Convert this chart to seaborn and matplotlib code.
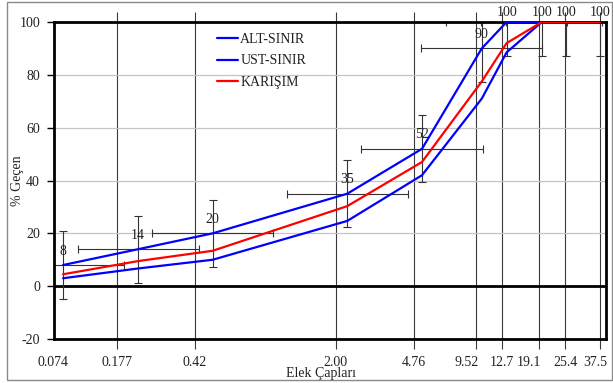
import numpy as np
import pandas as pd
import matplotlib
matplotlib.use("Agg")
import matplotlib.pyplot as plt
import matplotlib.transforms as mtrans
from matplotlib.patches import Rectangle
from matplotlib.ticker import NullLocator, FixedLocator, FixedFormatter
import seaborn as sns

# ---- data ----
sieve = [0.074, 0.177, 0.42, 2.00, 4.76, 9.52, 12.7, 19.1, 25.4, 37.5]
alt_sinir = [3, 6.7, 10, 24.7, 42, 71, 88.5, 100, 100, 100]
ust_sinir = [8, 14, 20, 35, 52, 90, 100, 100, 100, 100]
karisim = [4.5, 9.5, 13.4, 30.3, 47, 77.5, 92, 100, 100, 100]
series_names = ["ALT-SINIR", "UST-SINIR", "KARIŞIM"]
tick_labels = ["0.177", "0.42", "2.00", "4.76", "9.52", "12.7", "19.1", "25.4", "37.5"]
tick_values = [0.177, 0.42, 2.00, 4.76, 9.52, 12.7, 19.1, 25.4, 37.5]
first_label = "0.074"
y_err = 12.7
x_err_factor = 2.02

df = pd.DataFrame({
    "Elek": sieve * 3,
    "Geçen": alt_sinir + ust_sinir + karisim,
    "Seri": [series_names[0]] * len(sieve) + [series_names[1]] * len(sieve) + [series_names[2]] * len(sieve),
})

sns.set_theme(style="white")
plt.rcParams["font.family"] = ["Liberation Serif", "DejaVu Serif"]
plt.rcParams["font.size"] = 10
plt.rcParams["axes.unicode_minus"] = False

fig = plt.figure(figsize=(6.13, 3.83), dpi=100)
fig.patch.set_facecolor("white")
W, H = 613, 383
rect = [54 / W, (H - 339) / H, (606 - 54) / W, (339 - 22) / H]

ax2 = fig.add_axes(rect)  # secondary axis carrying the vertical grid / labels
ax = fig.add_axes(rect)
ax.set_zorder(2)
ax.patch.set_visible(False)
ax2.set_zorder(1)

TICK_LEN, TICK_PAD = 7, 5

# secondary (grid) axis
ax2.set_xscale("log")
ax2.set_xlim(0.08797, 40.1)
ax2.set_ylim(-20, 100)
ax2.set_yticks([])
ax2.xaxis.set_major_locator(FixedLocator(tick_values))
ax2.xaxis.set_major_formatter(FixedFormatter(tick_labels))
ax2.xaxis.set_minor_locator(NullLocator())
ax2.grid(axis="x", color="#3a3a3a", lw=0.8)
ax2.tick_params(axis="x", which="major", direction="out", length=TICK_LEN, width=0.8,
                color="#3a3a3a", top=True, bottom=True, labelsize=10, pad=TICK_PAD,
                labelcolor="#222222")
for s in ax2.spines.values():
    s.set_visible(False)
shifts = {"9.52": -10, "19.1": -10, "37.5": -5, "25.4": 1}
for lab in ax2.get_xticklabels():
    dx = shifts.get(lab.get_text(), 0)
    if dx:
        lab.set_transform(lab.get_transform() + mtrans.ScaledTranslation(dx / 100, 0, fig.dpi_scale_trans))

# label at the left edge of the axis
ax2.annotate(first_label, (0, 0), xycoords="axes fraction",
             xytext=(-0.7, -(TICK_LEN + TICK_PAD)), textcoords="offset points",
             ha="center", va="top", fontsize=10, color="#222222")

# primary data axis
palette = {series_names[0]: "#0000ff", series_names[1]: "#0000ff", series_names[2]: "#ff0000"}
sns.lineplot(data=df, x="Elek", y="Geçen", hue="Seri", hue_order=series_names,
             palette=palette, estimator=None, sort=False, lw=1.6, ax=ax, zorder=3)
ax.set_xscale("log")
ax.set_xlim(0.06664, 40.22)
ax.set_ylim(-20, 100)
ax.set_xticks([])
ax.xaxis.set_minor_locator(NullLocator())
ax.set_yticks([-20, 0, 20, 40, 60, 80, 100])
ax.tick_params(axis="y", direction="out", length=5, width=1, color="black",
               labelsize=10, pad=5, left=True, labelcolor="#222222")
ax.set_axisbelow(True)
ax.grid(axis="y", color="#c4c4c4", lw=0.9)
ax.axhline(0, color="black", lw=2.0, zorder=2)
for s in ax.spines.values():
    s.set_visible(True)
    s.set_color("black")
    s.set_linewidth(2.0)

# error bars on upper limit
xs = np.array(sieve)
xerr = np.vstack([xs - xs / x_err_factor, xs * x_err_factor - xs])
ax.errorbar(xs, ust_sinir, yerr=y_err, xerr=xerr, fmt="none", ecolor="#333333",
            elinewidth=0.8, capsize=3, capthick=0.8, zorder=2.5)

# value labels
for x, v in zip(sieve, ust_sinir):
    off = 10 if v < 100 else 6.5
    ax.annotate(f"{v:g}", (x, v), xytext=(0, off), textcoords="offset points",
                ha="center", va="center", fontsize=10, color="#222222", zorder=4)

# axis labels
ax.set_xlabel("Elek Çapları", fontsize=10, color="#222222")
ax.xaxis.set_label_coords((321 - 54) / 552, (339 - 374) / 317)
ax.xaxis.label.set_va("center")
ax.set_ylabel("% Geçen", fontsize=10, color="#222222")
ax.yaxis.set_label_coords((18 - 54) / 552, 0.5)
ax.yaxis.label.set_va("center")

# legend
leg = ax.legend(loc="upper left", bbox_to_anchor=(0.296, 0.965), frameon=False,
                handlelength=1.5, handletextpad=0.15, labelspacing=0.6,
                borderaxespad=0, borderpad=0, fontsize=10)
for t in leg.get_texts():
    t.set_color("#222222")

# chart-area border
fig.patches.append(Rectangle((7 / W, (H - 380) / H), (612 - 7) / W, (380 - 2) / H,
                             transform=fig.transFigure, fill=False,
                             edgecolor="#8a8a8a", lw=1.0))

fig.savefig("out.png", dpi=100)
